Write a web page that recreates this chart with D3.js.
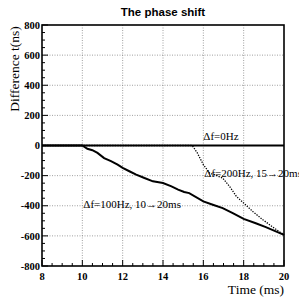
<!DOCTYPE html>
<html><head><meta charset="utf-8">
<script src="https://cdn.jsdelivr.net/npm/d3@7"></script>
<style>body{margin:0;background:#fff}svg{display:block}</style>
</head><body>
<script>
const title = "The phase shift";
const xLabel = "Time (ms)";
const yLabel = "Difference t(ns)";
const xTicks = [8,10,12,14,16,18,20];
const yTicks = [-800,-600,-400,-200,0,200,400,600,800];

const t0 = [8,20];
const v0 = [0,0];
const t100 = [8,10,10.25,10.5,10.75,11.08,11.42,11.75,12,12.33,12.67,13.08,13.5,14,14.42,14.75,15.05,15.3,16,16.47,16.96,17.46,18,18.6,19.1,20];
const v100 = [0,0,-22,-31,-49,-84,-104,-127,-149,-171,-193,-216,-238,-249,-271,-293,-309,-316,-371,-393,-416,-449,-487,-516,-542,-593];
const t200 = [8,15.45,15.7,16,16.3,16.63,16.96,17.3,17.64,18,18.45,18.95,19.45,20];
const v200 = [0,0,-49,-127,-182,-198,-216,-271,-338,-382,-438,-493,-542,-593];
const labels = ["Δf=0Hz","Δf=100Hz, 10→20ms","Δf=200Hz, 15→20ms"];

const SERIF = "'Liberation Serif','Times New Roman','DejaVu Serif',serif";
const SANS = "'Liberation Sans',Arial,'DejaVu Sans',sans-serif";
const W=299,H=297;
const svg=d3.select("body").append("svg").attr("width",W).attr("height",H);
const x=d3.scaleLinear().domain([8,20]).range([42,284]);
const y=d3.scaleLinear().domain([-800,800]).range([266,25]);

// grid
const gx=xTicks.filter(d=>d>8&&d<20), gy=yTicks.filter(d=>d>-800&&d<800&&d!==0);
svg.append("g").selectAll("line").data(gx).join("line")
  .attr("x1",d=>x(d)).attr("x2",d=>x(d)).attr("y1",y(800)).attr("y2",y(-800))
  .attr("stroke","#888").attr("stroke-width",0.8).attr("stroke-dasharray","1,1.5");
svg.append("g").selectAll("line").data(gy).join("line")
  .attr("y1",d=>y(d)).attr("y2",d=>y(d)).attr("x1",x(8)).attr("x2",x(20))
  .attr("stroke","#888").attr("stroke-width",0.8).attr("stroke-dasharray","1,1.5");

// ticks (inward)
const yMinor=d3.range(-800,801,50);
svg.append("g").selectAll("line").data(yMinor).join("line")
  .attr("x1",x(8)).attr("x2",d=>x(8)+(d%200===0?6:3)).attr("y1",d=>y(d)).attr("y2",d=>y(d))
  .attr("stroke","#000").attr("stroke-width",1);
const xMinor=d3.range(8,20.01,0.5);
svg.append("g").selectAll("line").data(xMinor).join("line")
  .attr("y1",y(-800)).attr("y2",d=>y(-800)-(d%2===0?6:3)).attr("x1",d=>x(d)).attr("x2",d=>x(d))
  .attr("stroke","#000").attr("stroke-width",1);

// frame
svg.append("rect").attr("x",x(8)).attr("y",y(800)).attr("width",x(20)-x(8)).attr("height",y(-800)-y(800))
  .attr("fill","none").attr("stroke","#000").attr("stroke-width",1.6);

// tick labels
svg.append("g").selectAll("text").data(yTicks).join("text")
  .attr("x",x(8)-2).attr("y",d=>y(d)).attr("dy","0.35em").attr("text-anchor","end")
  .style("font-family",SERIF).attr("font-weight","bold").attr("font-size",10.5)
  .text(d=>d<0?"-"+Math.abs(d):d);
svg.append("g").selectAll("text").data(xTicks).join("text")
  .attr("x",d=>x(d)).attr("y",280).attr("text-anchor","middle")
  .style("font-family",SERIF).attr("font-weight","bold").attr("font-size",10.5)
  .text(d=>d);

// curves
const line=d3.line().x(d=>x(d[0])).y(d=>y(d[1]));
svg.append("path").datum(d3.zip(t0,v0)).attr("d",line).attr("fill","none").attr("stroke","#000").attr("stroke-width",2);
svg.append("path").datum(d3.zip(t100,v100)).attr("d",line).attr("fill","none").attr("stroke","#000").attr("stroke-width",2);
svg.append("path").datum(d3.zip(t200,v200)).attr("d",line).attr("fill","none").attr("stroke","#000").attr("stroke-width",1.3).attr("stroke-dasharray","1.3,1.3");

// annotations
const ann=[[labels[0],16,35],[labels[1],10.05,-412],[labels[2],16.05,-212]];
svg.append("g").selectAll("text").data(ann).join("text")
  .attr("x",d=>x(d[1])).attr("y",d=>y(d[2]))
  .style("font-family",SERIF).attr("font-size",11)
  .text(d=>d[0]);

// titles
svg.append("text").attr("x",163).attr("y",16).attr("text-anchor","middle")
  .style("font-family",SANS).attr("font-weight","bold").attr("font-size",11.5).text(title);
svg.append("text").attr("x",284).attr("y",294).attr("text-anchor","end")
  .style("font-family",SERIF).attr("font-size",13.5).text(xLabel);
svg.append("text").attr("transform","translate(19,69) rotate(-90)").attr("text-anchor","middle")
  .style("font-family",SERIF).attr("font-size",13.5).text(yLabel);
</script>
</body></html>
